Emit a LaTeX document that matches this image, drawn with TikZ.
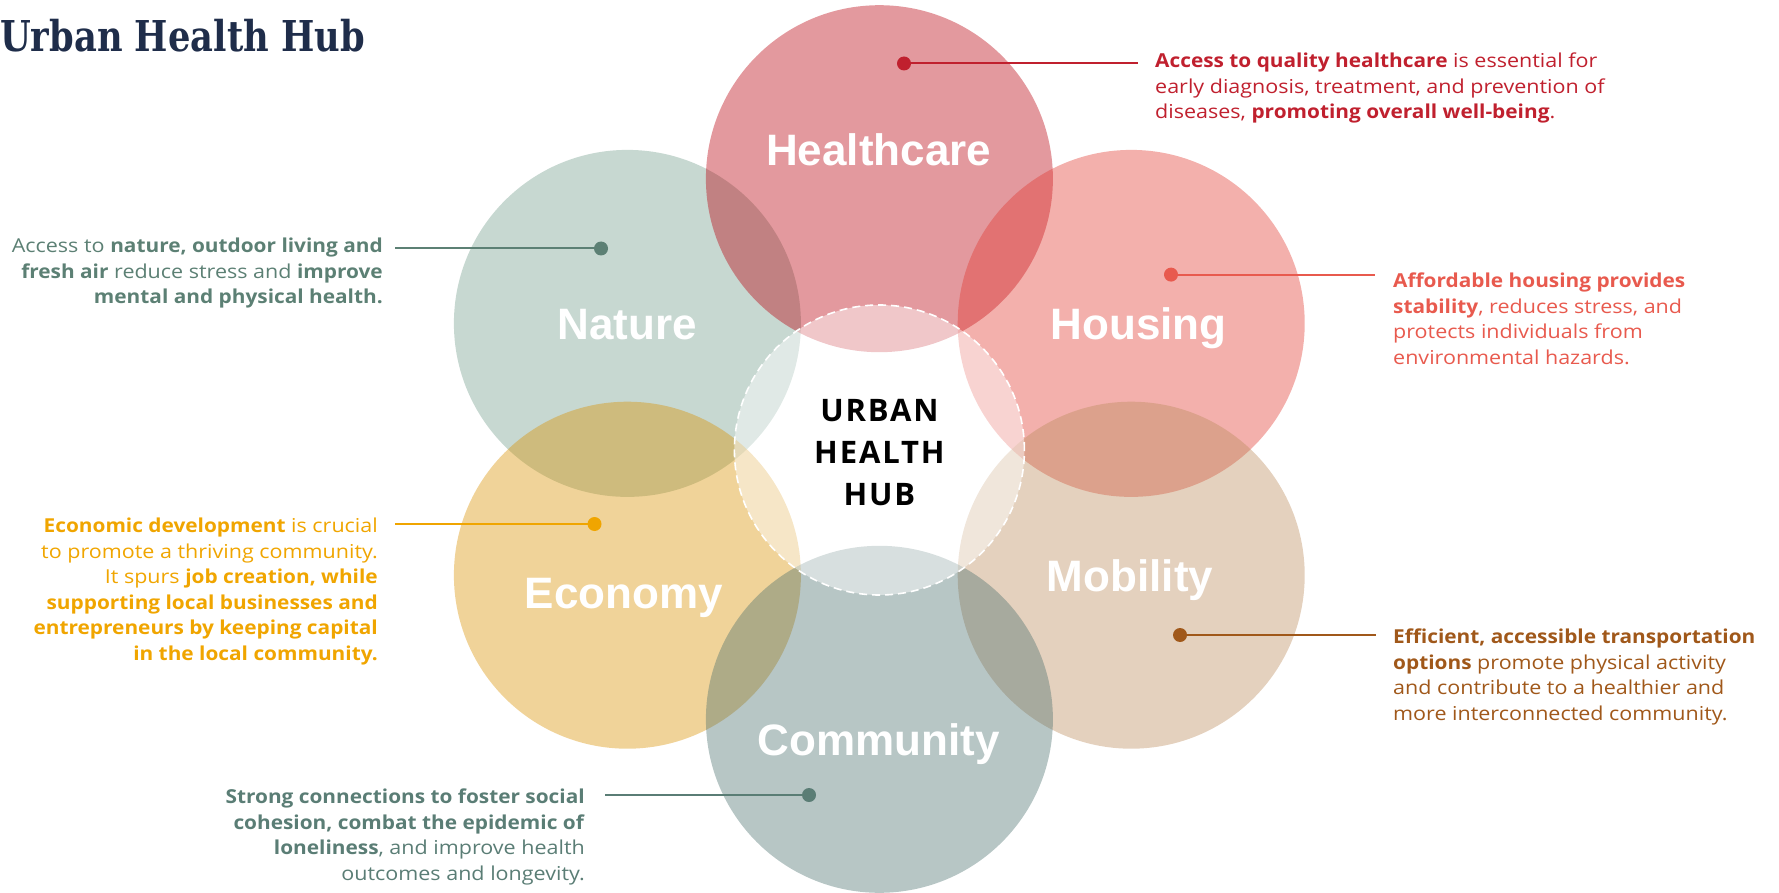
\documentclass[tikz,border=0pt]{standalone}
\usepackage{fontspec}
\setmainfont{Open Sans}[FakeStretch=1.12,BoldFeatures={FakeStretch=1.085}]
\newfontfamily\labelfont{Liberation Sans}
\newfontfamily\titlefont{DejaVu Serif}[FakeStretch=0.83]
\newfontfamily\hubfont{Open Sans}[LetterSpace=6]
\definecolor{hcBase}{RGB}{185,0,12}
\definecolor{naBase}{RGB}{115,157,140}
\definecolor{hoBase}{RGB}{225,57,48}
\definecolor{ecBase}{RGB}{218,145,0}
\definecolor{moBase}{RGB}{188,140,92}
\definecolor{coBase}{RGB}{75,112,110}
\definecolor{hcText}{RGB}{192,32,46}
\definecolor{naText}{RGB}{92,128,116}
\definecolor{hoText}{RGB}{232,90,78}
\definecolor{ecText}{RGB}{240,165,0}
\definecolor{moText}{RGB}{160,88,26}
\definecolor{coText}{RGB}{90,125,117}
\definecolor{titleCol}{RGB}{31,45,74}
\begin{document}
\begin{tikzpicture}[x=1pt,y=-1pt,
  bigc/.style={circle,inner sep=0pt,minimum size=347pt,fill opacity=0.4},
  hubc/.style={circle,inner sep=0pt,minimum size=290pt,fill=white,fill opacity=0.45,draw=white,line width=1.6pt,dash pattern=on 8pt off 5pt},
  clabel/.style={anchor=base,inner sep=0pt,text=white,font=\labelfont\bfseries\fontsize{44}{44}\selectfont},
  desc/.style={inner sep=0pt,font=\fontsize{19.2}{25.5}\selectfont},
  dotn/.style={circle,inner sep=0pt,minimum size=14pt},
  conn/.style={line width=2pt}
]
\useasboundingbox (0,0) rectangle (1779,893);
% title
\node[anchor=base west,inner sep=0pt,text=titleCol,font=\titlefont\bfseries\fontsize{42.5}{42.5}\selectfont] (title) at (0,52) {Urban Health Hub};
% circles
\node[bigc,fill=naBase] (na) at (627.4,323.4) {};
\node[bigc,fill=hcBase] (hc) at (879.4,178.7) {};
\node[bigc,fill=hoBase] (ho) at (1131.2,323.4) {};
\node[bigc,fill=ecBase] (ec) at (627.4,575.2) {};
\node[bigc,fill=moBase] (mo) at (1131.2,575.2) {};
\node[bigc,fill=coBase] (co) at (879.4,719.3) {};
\node[hubc] (hub) at (879.4,450) {};
\node[inner sep=0pt,align=center,font=\hubfont\bfseries\fontsize{31}{42}\selectfont] (hubT) at (879.4,453) {URBAN\\HEALTH\\HUB};
% circle labels
\node[clabel] (hcL) at (878.7,165.6) {Healthcare};
\node[clabel] (naL) at (627.4,339) {Nature};
\node[clabel] (hoL) at (1138.6,339) {Housing};
\node[clabel] (ecL) at (624,608) {Economy};
\node[clabel] (moL) at (1130,591) {Mobility};
\node[clabel] (coL) at (878.7,755) {Community};
% descriptions
\node[desc,anchor=north west,align=left,text=hcText] (hcD) at (1155,53) {\textbf{Access to quality healthcare} is essential for\\early diagnosis, treatment, and prevention of\\diseases, \textbf{promoting overall well-being}.};
\node[desc,anchor=north east,align=right,text=naText] (naD) at (383,238) {Access to \textbf{nature, outdoor living and}\\\textbf{fresh air} reduce stress and \textbf{improve}\\\textbf{mental and physical health.}};
\node[desc,anchor=north west,align=left,text=hoText] (hoD) at (1393,273) {\textbf{Affordable housing provides}\\\textbf{stability}, reduces stress, and\\protects individuals from\\environmental hazards.};
\node[desc,anchor=north east,align=right,text=ecText] (ecD) at (378,518) {\textbf{Economic development} is crucial\\to promote a thriving community.\\It spurs \textbf{job creation, while}\\\textbf{supporting local businesses and}\\\textbf{entrepreneurs by keeping capital}\\\textbf{in the local community.}};
\node[desc,anchor=north west,align=left,text=moText] (moD) at (1393,629) {\textbf{Efficient, accessible transportation}\\\textbf{options} promote physical activity\\and contribute to a healthier and\\more interconnected community.};
\node[desc,anchor=north east,align=right,text=coText] (coD) at (585,789) {\textbf{Strong connections to foster social}\\\textbf{cohesion, combat the epidemic of}\\\textbf{loneliness}, and improve health\\outcomes and longevity.};
% dots and connectors
\node[dotn,fill=hcText] (hcDot) at (904,63.5) {};
\coordinate (hcEnd) at (1138,63.5);
\draw[conn,hcText] (hcDot.center) -- (hcEnd);
\node[dotn,fill=naText] (naDot) at (601,248.5) {};
\coordinate (naEnd) at (395,248.5);
\draw[conn,naText] (naDot.center) -- (naEnd);
\node[dotn,fill=hoText] (hoDot) at (1171,274.6) {};
\coordinate (hoEnd) at (1375,274.6);
\draw[conn,hoText] (hoDot.center) -- (hoEnd);
\node[dotn,fill=ecText] (ecDot) at (594.5,524) {};
\coordinate (ecEnd) at (395,524);
\draw[conn,ecText] (ecDot.center) -- (ecEnd);
\node[dotn,fill=moText] (moDot) at (1180,635) {};
\coordinate (moEnd) at (1376,635);
\draw[conn,moText] (moDot.center) -- (moEnd);
\node[dotn,fill=coText] (coDot) at (809,795) {};
\coordinate (coEnd) at (605,795);
\draw[conn,coText] (coDot.center) -- (coEnd);
\end{tikzpicture}
\end{document}
